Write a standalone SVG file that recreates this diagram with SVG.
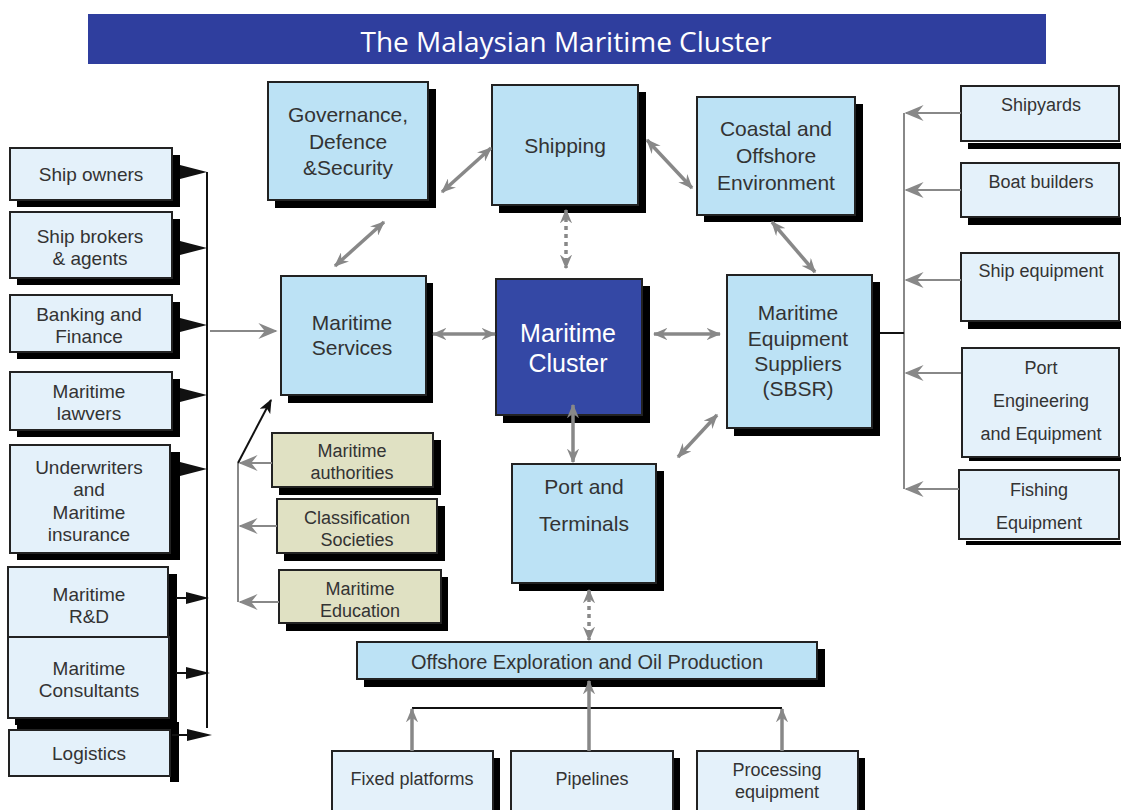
<svg xmlns="http://www.w3.org/2000/svg" width="1121" height="810" viewBox="0 0 1121 810">
<defs>
<style>
.sh{fill:#000}
.lb{fill:#E4F1FA;stroke:#222;stroke-width:2}
.mb{fill:#BCE2F5;stroke:#222;stroke-width:2}
.ol{fill:#E0E1C3;stroke:#222;stroke-width:2}
.cl{fill:#3448A5;stroke:#222;stroke-width:2}
text{font-family:"Liberation Sans",Arial,sans-serif;fill:#333;text-anchor:middle}
.t18{font-size:18px}
.t19{font-size:19px}
.t21{font-size:21px}
.ga{stroke:#888;stroke-width:3.5;fill:none;marker-end:url(#ga);marker-start:url(#ga)}
.g1{stroke:#888;stroke-width:3.5;fill:none;marker-end:url(#ga)}
.gd{stroke:#888;stroke-width:3.5;fill:none;stroke-dasharray:4 4;marker-end:url(#ga);marker-start:url(#ga)}
.gt{stroke:#888;stroke-width:2;fill:none;marker-end:url(#gs)}
.bk{stroke:#111;stroke-width:2;fill:none}
.bh{fill:#111}
</style>
<marker id="ga" viewBox="0 0 12 10" refX="11" refY="5" markerWidth="4.2" markerHeight="3.5" orient="auto-start-reverse" markerUnits="strokeWidth">
<path d="M0,0 L12,5 L0,10 L4,5 z" fill="#888"/>
</marker>
<marker id="gs" viewBox="0 0 12 10" refX="11" refY="5" markerWidth="10" markerHeight="8" orient="auto" markerUnits="strokeWidth">
<path d="M0,0 L12,5 L0,10 L4,5 z" fill="#888"/>
</marker>
<marker id="bka" viewBox="0 0 12 10" refX="11" refY="5" markerWidth="7" markerHeight="6" orient="auto" markerUnits="strokeWidth">
<path d="M0,0 L12,5 L0,10 L3,5 z" fill="#111"/>
</marker>
</defs>

<g id="title">
<rect x="88" y="14" width="958" height="50" fill="#2F3E9E"/>
<text x="566" y="52" style="font-family:'Open Sans','Noto Sans',sans-serif;font-size:28px;fill:#fff">The Malaysian Maritime Cluster</text>
</g>

<!-- left column -->
<g id="ship-owners"><rect class="sh" x="17" y="155" width="163" height="52"/><rect class="lb" x="10" y="148" width="162" height="52"/><text class="t19" x="91" y="181">Ship owners</text></g>
<g id="ship-brokers"><rect class="sh" x="17" y="219" width="163" height="66"/><rect class="lb" x="10" y="212" width="162" height="66"/><text class="t19" x="90" y="243">Ship brokers</text><text class="t19" x="90" y="265">&amp; agents</text></g>
<g id="banking"><rect class="sh" x="17" y="302" width="163" height="57"/><rect class="lb" x="10" y="295" width="162" height="57"/><text class="t19" x="89" y="321">Banking and</text><text class="t19" x="89" y="343">Finance</text></g>
<g id="lawyers"><rect class="sh" x="17" y="379" width="163" height="58"/><rect class="lb" x="10" y="372" width="162" height="58"/><text class="t19" x="89" y="398">Maritime</text><text class="t19" x="89" y="420">lawvers</text></g>
<g id="underwriters"><rect class="sh" x="17" y="452" width="163" height="108"/><rect class="lb" x="10" y="445" width="160" height="108"/><text class="t19" x="89" y="474">Underwriters</text><text class="t19" x="89" y="496">and</text><text class="t19" x="89" y="519">Maritime</text><text class="t19" x="89" y="541">insurance</text></g>
<g id="rd"><rect class="sh" x="15" y="574" width="162" height="70"/><rect class="lb" x="8" y="567" width="160" height="70"/><text class="t19" x="89" y="601">Maritime</text><text class="t19" x="89" y="623">R&amp;D</text></g>
<g id="consultants"><rect class="sh" x="15" y="644" width="162" height="81"/><rect class="lb" x="8" y="637" width="161" height="81"/><text class="t19" x="89" y="675">Maritime</text><text class="t19" x="89" y="697">Consultants</text></g>
<g id="logistics"><rect class="sh" x="17" y="722" width="162" height="8"/><rect class="sh" x="170" y="730" width="9" height="52"/><rect class="lb" x="9" y="730" width="161" height="46"/><text class="t19" x="89" y="760">Logistics</text></g>

<!-- center -->
<g id="governance"><rect class="sh" x="275" y="89" width="161" height="119"/><rect class="mb" x="268" y="82" width="160" height="118"/><text class="t21" x="348" y="122">Governance,</text><text class="t21" x="348" y="149">Defence</text><text class="t21" x="348" y="175">&amp;Security</text></g>
<g id="shipping"><rect class="sh" x="499" y="92" width="147" height="121"/><rect class="mb" x="492" y="85" width="146" height="120"/><text class="t21" x="565" y="153">Shipping</text></g>
<g id="coastal"><rect class="sh" x="704" y="104" width="159" height="118"/><rect class="mb" x="697" y="97" width="158" height="118"/><text class="t21" x="776" y="136">Coastal and</text><text class="t21" x="776" y="163">Offshore</text><text class="t21" x="776" y="190">Environment</text></g>
<g id="services"><rect class="sh" x="288" y="283" width="145" height="120"/><rect class="mb" x="281" y="276" width="145" height="119"/><text class="t21" x="352" y="330">Maritime</text><text class="t21" x="352" y="355">Services</text></g>
<g id="cluster"><rect class="sh" x="503" y="286" width="147" height="137"/><rect class="cl" x="496" y="279" width="146" height="136"/><text x="568" y="342" style="font-size:25px;fill:#fff">Maritime</text><text x="568" y="372" style="font-size:25px;fill:#fff">Cluster</text></g>
<g id="mes"><rect class="sh" x="734" y="282" width="146" height="154"/><rect class="mb" x="727" y="275" width="145" height="153"/><text class="t21" x="798" y="320">Maritime</text><text class="t21" x="798" y="346">Equipment</text><text class="t21" x="798" y="371">Suppliers</text><text class="t21" x="798" y="396">(SBSR)</text></g>
<g id="port"><rect class="sh" x="519" y="471" width="145" height="120"/><rect class="mb" x="512" y="464" width="144" height="119"/><text class="t21" x="584" y="494">Port and</text><text class="t21" x="584" y="531">Terminals</text></g>
<g id="offshore"><rect class="sh" x="364" y="649" width="461" height="38"/><rect class="mb" x="357" y="642" width="460" height="37"/><text x="587" y="669" style="font-size:20px">Offshore Exploration and Oil Production</text></g>

<!-- olive -->
<g id="authorities"><rect class="sh" x="279" y="440" width="162" height="55"/><rect class="ol" x="272" y="433" width="161" height="54"/><text class="t18" x="352" y="457">Maritime</text><text class="t18" x="352" y="479">authorities</text></g>
<g id="classification"><rect class="sh" x="284" y="506" width="161" height="55"/><rect class="ol" x="277" y="499" width="160" height="54"/><text class="t18" x="357" y="524">Classification</text><text class="t18" x="357" y="546">Societies</text></g>
<g id="education"><rect class="sh" x="286" y="577" width="162" height="54"/><rect class="ol" x="279" y="570" width="162" height="53"/><text class="t18" x="360" y="595">Maritime</text><text class="t18" x="360" y="617">Education</text></g>

<!-- right -->
<g id="shipyards"><rect class="sh" x="968" y="143" width="153" height="6"/><rect class="lb" x="961" y="86" width="158" height="55"/><text class="t18" x="1041" y="111">Shipyards</text></g>
<g id="boat-builders"><rect class="sh" x="968" y="217" width="153" height="8"/><rect class="lb" x="961" y="163" width="158" height="54"/><text class="t18" x="1041" y="188">Boat builders</text></g>
<g id="ship-equipment"><rect class="sh" x="968" y="321" width="153" height="8"/><rect class="lb" x="961" y="253" width="158" height="68"/><text class="t18" x="1041" y="277">Ship equipment</text></g>
<g id="port-eng"><rect class="sh" x="969" y="457" width="152" height="4"/><rect class="lb" x="962" y="348" width="157" height="109"/><text class="t18" x="1041" y="374">Port</text><text class="t18" x="1041" y="407">Engineering</text><text class="t18" x="1041" y="440">and Equipment</text></g>
<g id="fishing"><rect class="sh" x="966" y="541" width="155" height="4"/><rect class="lb" x="959" y="470" width="160" height="69"/><text class="t18" x="1039" y="496">Fishing</text><text class="t18" x="1039" y="529">Equipment</text></g>

<!-- bottom -->
<g id="fixed"><rect class="sh" x="339" y="758" width="161" height="60"/><rect class="lb" x="332" y="751" width="161" height="60"/><text class="t18" x="412" y="785">Fixed platforms</text></g>
<g id="pipelines"><rect class="sh" x="518" y="758" width="162" height="60"/><rect class="lb" x="511" y="751" width="162" height="60"/><text class="t18" x="592" y="785">Pipelines</text></g>
<g id="processing"><rect class="sh" x="704" y="758" width="161" height="60"/><rect class="lb" x="697" y="751" width="161" height="60"/><text class="t18" x="777" y="776">Processing</text><text class="t18" x="777" y="798">equipment</text></g>

<g id="connectors">
<!-- left bus -->
<line class="bk" x1="207" y1="172" x2="207" y2="728"/>
<polygon class="bh" points="180,165 207,172 180,179"/>
<polygon class="bh" points="180,241 207,248 180,255"/>
<polygon class="bh" points="180,318 207,325 180,332"/>
<polygon class="bh" points="180,388 207,395 180,402"/>
<polygon class="bh" points="180,462 207,469 180,476"/>
<line class="bk" x1="176" y1="598" x2="186" y2="598"/>
<polygon class="bh" points="186,592 209,598 186,604"/>
<line class="bk" x1="176" y1="673" x2="186" y2="673"/>
<polygon class="bh" points="186,667 210,673 186,679"/>
<line class="bk" x1="172" y1="735" x2="187" y2="735"/>
<polygon class="bh" points="187,729 212,735 187,741"/>
<line class="gt" x1="210" y1="331" x2="276" y2="331"/>
<!-- olive bus -->
<line stroke="#888" stroke-width="2" x1="238" y1="463" x2="238" y2="602"/>
<line class="gt" x1="272" y1="463" x2="240" y2="463"/>
<line class="gt" x1="277" y1="526" x2="240" y2="526"/>
<line class="gt" x1="279" y1="602" x2="240" y2="602"/>
<line stroke="#111" stroke-width="2" x1="238" y1="463" x2="271" y2="400" marker-end="url(#bka)"/>
<!-- right bus -->
<line stroke="#888" stroke-width="2" x1="904" y1="113" x2="904" y2="489"/>
<line class="gt" x1="961" y1="113" x2="906" y2="113"/>
<line class="gt" x1="961" y1="190" x2="906" y2="190"/>
<line class="gt" x1="961" y1="280" x2="906" y2="280"/>
<line class="gt" x1="961" y1="373" x2="906" y2="373"/>
<line class="gt" x1="959" y1="489" x2="906" y2="489"/>
<line class="bk" x1="880" y1="333" x2="904" y2="333"/>
<!-- center arrows -->
<line class="ga" x1="442" y1="192" x2="491" y2="148"/>
<line class="ga" x1="335" y1="266" x2="384" y2="222"/>
<line class="ga" x1="647" y1="140" x2="692" y2="188"/>
<line class="gd" x1="566" y1="210" x2="566" y2="268"/>
<line class="ga" x1="772" y1="222" x2="815" y2="272"/>
<line class="ga" x1="433" y1="334" x2="495" y2="334"/>
<line class="ga" x1="654" y1="334" x2="720" y2="334"/>
<line class="ga" x1="573" y1="405" x2="573" y2="462"/>
<line class="ga" x1="678" y1="457" x2="717" y2="415"/>
<line class="gd" x1="589" y1="590" x2="589" y2="640"/>
<!-- bottom -->
<line class="bk" x1="412" y1="708" x2="782" y2="708"/>
<line class="g1" x1="412" y1="751" x2="412" y2="709"/>
<line class="g1" x1="589" y1="751" x2="589" y2="681"/>
<line class="g1" x1="782" y1="751" x2="782" y2="709"/>
</g>
</svg>
